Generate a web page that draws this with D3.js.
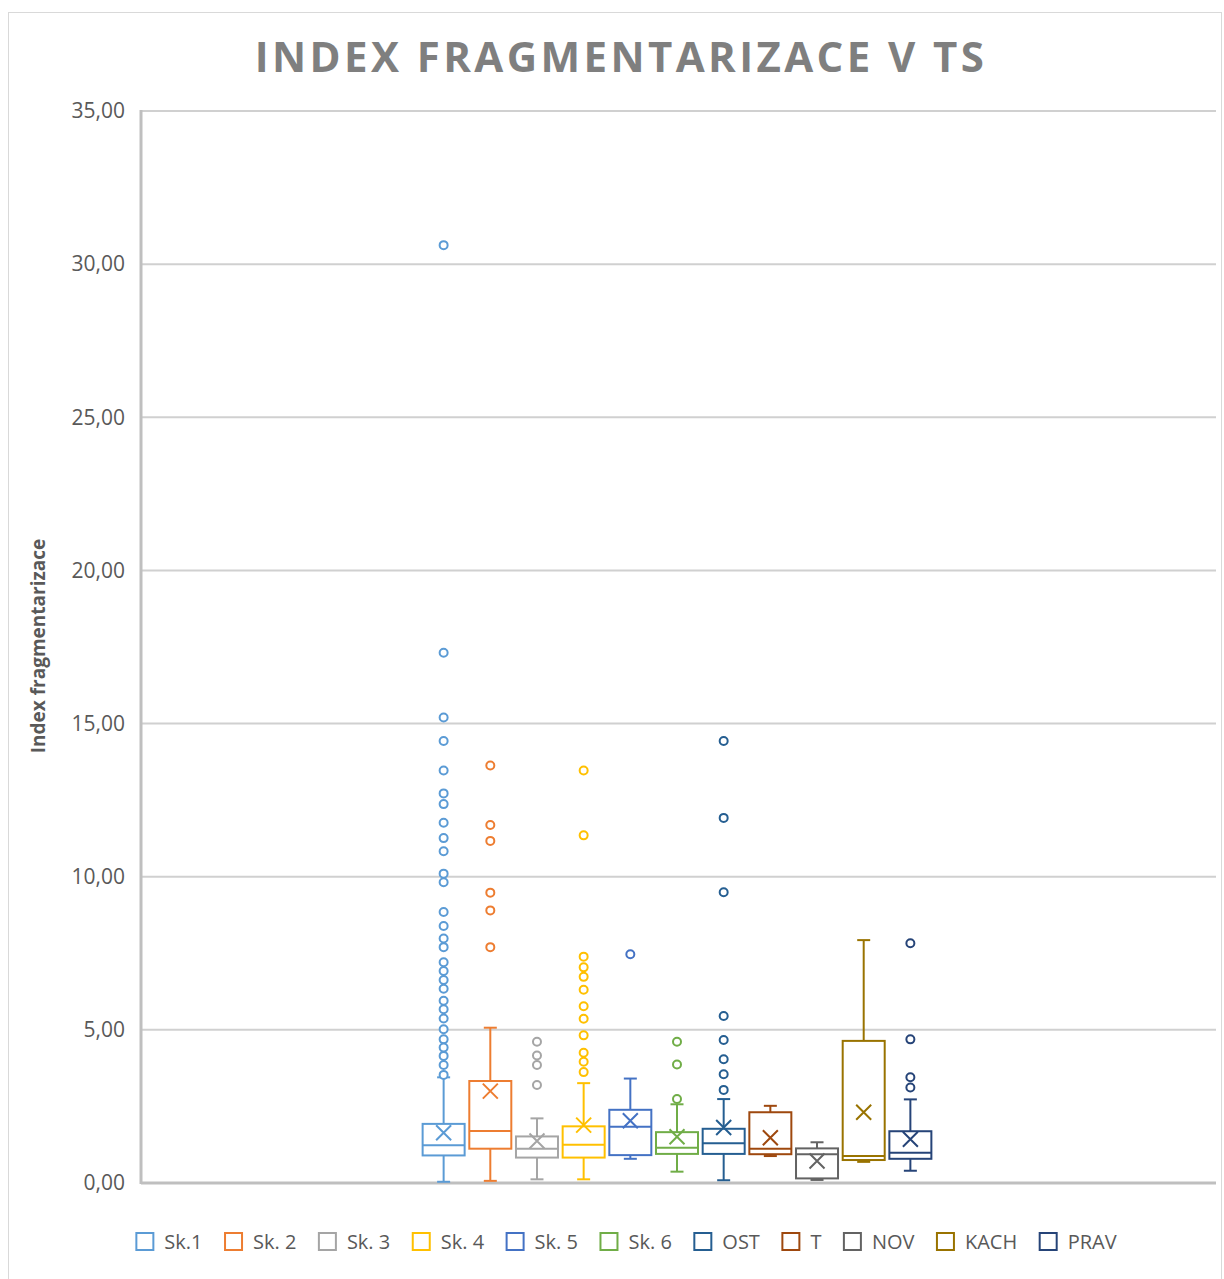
<!DOCTYPE html>
<html lang="cs">
<head>
<meta charset="UTF-8">
<title>Index fragmentarizace v TS</title>
<script src="https://cdn.jsdelivr.net/npm/d3@7"></script>
<style>
  body { margin: 0; background: #fff; }
  text { font-family: "Open Sans", sans-serif; fill: #595959; }
  .grid line { stroke: #d0d0d0; stroke-width: 2px; }
  .axis-line { stroke: #bfbfbf; stroke-width: 3px; }
  .title { font-weight: bold; fill: #7f7f7f; }
</style>
</head>
<body>
<svg id="chart" width="1224" height="1279"></svg>
<script>
// series (one box per series, single category)
var seriesNames = ["Sk.1", "Sk. 2", "Sk. 3", "Sk. 4", "Sk. 5", "Sk. 6", "OST", "T", "NOV", "KACH", "PRAV"];
var seriesColors = ["#5B9BD5", "#ED7D31", "#A5A5A5", "#FFC000", "#4472C4", "#70AD47", "#255E91", "#9E480E", "#636363", "#997300", "#264478"];

var whiskerLow  = [0.04, 0.07, 0.12, 0.12, 0.79, 0.37, 0.09, 0.88, 0.10, 0.69, 0.40];
var q1          = [0.90, 1.12, 0.83, 0.83, 0.91, 0.95, 0.95, 0.94, 0.15, 0.75, 0.79];
var median      = [1.23, 1.70, 1.12, 1.25, 1.84, 1.15, 1.30, 1.12, 0.94, 0.88, 0.99];
var q3          = [1.93, 3.33, 1.52, 1.85, 2.39, 1.66, 1.77, 2.31, 1.13, 4.64, 1.69];
var whiskerHigh = [3.45, 5.07, 2.11, 3.26, 3.41, 2.57, 2.74, 2.52, 1.33, 7.93, 2.73];
var mean        = [1.64, 3.00, 1.37, 1.89, 2.03, 1.51, 1.81, 1.48, 0.72, 2.31, 1.43];

var outliers = [
  [30.62, 17.31, 15.20, 14.43, 13.47, 12.72, 12.37, 11.76, 11.26, 10.83, 10.10, 9.82, 8.85, 8.39, 7.98, 7.70,
   7.21, 6.92, 6.63, 6.34, 5.95, 5.67, 5.37, 5.02, 4.69, 4.42, 4.15, 3.85, 3.53],
  [13.63, 11.69, 11.17, 9.48, 8.90, 7.70],
  [4.61, 4.16, 3.85, 3.20],
  [13.47, 11.35, 7.39, 7.04, 6.73, 6.31, 5.77, 5.36, 4.82, 4.25, 3.96, 3.62],
  [7.47],
  [4.61, 3.87, 2.74],
  [14.43, 11.92, 9.49, 5.45, 4.67, 4.04, 3.55, 3.04],
  [],
  [],
  [],
  [7.83, 4.69, 3.45, 3.12]
];

var yTicks = [0, 5, 10, 15, 20, 25, 30, 35];

var svg = d3.select("#chart");
var margin = { left: 141, right: 1216, top: 111, bottom: 1183 };

var fmt = function (v) { return d3.format(".2f")(v).replace(".", ","); };

var y = d3.scaleLinear().domain([0, 35]).range([margin.bottom, margin.top]);
var xCat = d3.scaleBand().domain([""]).range([margin.left, margin.right - 3]).paddingOuter(0.544);
var x = d3.scaleBand().domain(seriesNames).range([xCat(""), xCat("") + xCat.bandwidth()])
    .paddingInner(0.1).paddingOuter(0.05);

// outer frame
svg.append("rect").attr("x", 8.5).attr("y", 12.5).attr("width", 1213).attr("height", 1280)
    .attr("fill", "none").attr("stroke", "#d9d9d9").attr("stroke-width", 1);

// title
svg.append("text").attr("class", "title")
    .attr("x", 621).attr("y", 72)
    .attr("text-anchor", "middle")
    .style("font-size", "42px")
    .style("letter-spacing", "3.4px")
    .text("INDEX FRAGMENTARIZACE V TS");

// gridlines
svg.append("g").attr("class", "grid")
    .selectAll("line").data(yTicks.slice(1)).enter().append("line")
    .attr("x1", margin.left).attr("x2", margin.right)
    .attr("y1", function (d) { return y(d); }).attr("y2", function (d) { return y(d); });

// y axis
var yAxis = d3.axisLeft(y).tickValues(yTicks).tickFormat(fmt).tickSize(0).tickPadding(16);
var gy = svg.append("g").attr("transform", "translate(" + margin.left + ",0)").call(yAxis);
gy.select(".domain").remove();
gy.selectAll("text").style("font-size", "21px").attr("fill", "#595959");

svg.append("line").attr("class", "axis-line")
    .attr("x1", margin.left).attr("x2", margin.left)
    .attr("y1", margin.top - 1).attr("y2", margin.bottom + 1);
svg.append("line").attr("class", "axis-line")
    .attr("x1", margin.left).attr("x2", margin.right)
    .attr("y1", margin.bottom).attr("y2", margin.bottom);

// y title
svg.append("text")
    .attr("transform", "translate(45,646) rotate(-90)")
    .attr("text-anchor", "middle")
    .style("font-size", "19px").style("font-weight", "bold")
    .text("Index fragmentarizace");

// boxes
var bw = x.bandwidth();
var capW = 13;
seriesNames.forEach(function (name, i) {
    var c = seriesColors[i];
    var cx = x(name) + bw / 2;
    var g = svg.append("g").attr("stroke", c).attr("stroke-width", 2).attr("fill", "none");

    // whiskers
    g.append("line").attr("x1", cx).attr("x2", cx).attr("y1", y(q3[i])).attr("y2", y(whiskerHigh[i]));
    g.append("line").attr("x1", cx).attr("x2", cx).attr("y1", y(q1[i])).attr("y2", y(whiskerLow[i]));
    g.append("line").attr("x1", cx - capW / 2).attr("x2", cx + capW / 2)
        .attr("y1", y(whiskerHigh[i])).attr("y2", y(whiskerHigh[i]));
    g.append("line").attr("x1", cx - capW / 2).attr("x2", cx + capW / 2)
        .attr("y1", y(whiskerLow[i])).attr("y2", y(whiskerLow[i]));

    // box
    g.append("rect").attr("x", x(name)).attr("width", bw)
        .attr("y", y(q3[i])).attr("height", y(q1[i]) - y(q3[i]))
        .attr("fill", "#fff");
    g.append("line").attr("x1", x(name)).attr("x2", x(name) + bw)
        .attr("y1", y(median[i])).attr("y2", y(median[i]));

    // mean marker
    var m = 7.5, my = y(mean[i]);
    g.append("path")
        .attr("d", "M" + (cx - m) + "," + (my - m) + "L" + (cx + m) + "," + (my + m) +
                   "M" + (cx - m) + "," + (my + m) + "L" + (cx + m) + "," + (my - m));

    // outliers
    g.selectAll("circle").data(outliers[i]).enter().append("circle")
        .attr("cx", cx).attr("cy", function (d) { return y(d); })
        .attr("r", 4).attr("fill", "#fff");
});

// legend
var legend = svg.append("g");
var lx = 0;
seriesNames.forEach(function (name, i) {
    var item = legend.append("g").attr("transform", "translate(" + lx + ",0)");
    item.append("rect").attr("x", 1).attr("y", -9).attr("width", 17).attr("height", 17)
        .attr("fill", "#fff").attr("stroke", seriesColors[i]).attr("stroke-width", 2);
    var t = item.append("text").attr("x", 29).attr("y", 7).style("font-size", "20px").text(name);
    lx += 29 + t.node().getComputedTextLength() + 21.5;
});
lx -= 21.5;
legend.attr("transform", "translate(" + (626 - lx / 2) + ",1242)");
</script>
</body>
</html>
